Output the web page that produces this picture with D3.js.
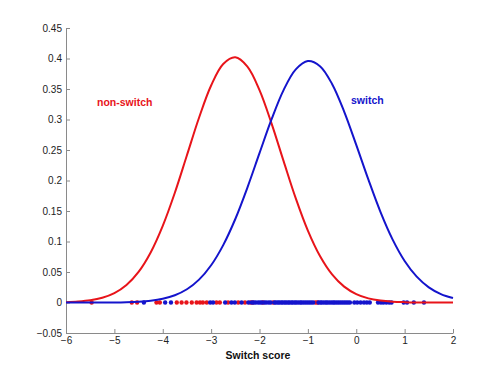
<!DOCTYPE html>
<html>
<head>
<meta charset="utf-8">
<script src="https://cdn.jsdelivr.net/npm/d3@7"></script>
<style>
    body { margin: 0; background: #fff; }
    svg { font-family: Arial, "Liberation Sans", sans-serif; }
</style>
</head>
<body>
<script>
"use strict";

// grid of switch scores where the two fitted curves were read
const curveX = [-6, -5.75, -5.5, -5.25, -5, -4.75, -4.5, -4.25, -4, -3.75, -3.5, -3.25, -3, -2.75, -2.5, -2.25,
    -2, -1.75, -1.5, -1.25, -1, -0.75, -0.5, -0.25, 0, 0.25, 0.5, 0.75, 1, 1.25, 1.5, 1.75, 2]

// non-switch density (red)
const nonSwitchCurve = [0.0006, 0.0016, 0.0036, 0.0077, 0.0153, 0.0286, 0.0501, 0.0820, 0.1256, 0.1799, 0.2414,
    0.3029, 0.3557, 0.3909, 0.4019, 0.3867, 0.3482, 0.2933, 0.2313, 0.1706, 0.1178, 0.0761, 0.0460, 0.0260,
    0.0138, 0.0068, 0.0032, 0.0014, 0.0006, 0.0002, 0.0001, 0, 0]

// switch density (blue)
const switchCurve = [0, 0, 0, 0.0001, 0.0002, 0.0006, 0.0014, 0.0030, 0.0062, 0.0119, 0.0217, 0.0375, 0.0611,
    0.0941, 0.1369, 0.1884, 0.2448, 0.3005, 0.3486, 0.3821, 0.3958, 0.3874, 0.3583, 0.3130, 0.2584, 0.2017,
    0.1486, 0.1035, 0.0681, 0.0424, 0.0249, 0.0138, 0.0073]

// individual scores, plotted on y = 0
const nonSwitchScores = [-5.47, -4.64, -4.53, -4.13, -4.06, -3.71, -3.61, -3.51, -3.40, -3.30, -3.23, -3.17,
    -3.09, -2.89, -2.82, -2.65, -2.44, -2.30, -2.19, -2.14, -1.93, -1.72, -0.84, -0.80]
const switchScores = [-4.39, -3.95, -3.83, -3.02, -2.96, -2.71, -2.58, -2.51, -2.37, -2.23, -2.16, -2.12, -2.08,
    -2.03, -1.99, -1.95, -1.90, -1.86, -1.81, -1.77, -1.69, -1.66, -1.62, -1.59, -1.55, -1.52, -1.48, -1.45,
    -1.41, -1.38, -1.34, -1.31, -1.27, -1.24, -1.20, -1.16, -1.13, -1.09, -1.05, -1.01, -0.97, -0.93, -0.89,
    -0.78, -0.74, -0.71, -0.67, -0.63, -0.60, -0.56, -0.52, -0.48, -0.45, -0.41, -0.37, -0.33, -0.29, -0.25,
    -0.21, -0.17, -0.13, -0.04, 0.02, 0.09, 0.16, 0.22, 0.28, 0.45, 0.51, 0.56, 0.62, 0.68, 0.73, 0.98, 1.05,
    1.19, 1.40]

const xTicks = [-6, -5, -4, -3, -2, -1, 0, 1, 2]
const yTicks = [-0.05, 0, 0.05, 0.1, 0.15, 0.2, 0.25, 0.3, 0.35, 0.4, 0.45]

const red = "#e8141a"
const blue = "#1414cc"

const size = { width: 500, height: 375, left: 66, right: 453, top: 28, bottom: 333 }

const svg = d3.select("body").append("svg")
    .attr("width", size.width)
    .attr("height", size.height)

const scaleX = d3.scaleLinear().domain([-6, 2]).range([size.left, size.right])
const scaleY = d3.scaleLinear().domain([-0.05, 0.45]).range([size.bottom, size.top])

// axes, ticks pointing inward like matlab
function drawAxes() {
    const xAxis = d3.axisBottom(scaleX)
        .tickValues(xTicks)
        .tickSizeInner(-4)
        .tickSizeOuter(0)
        .tickPadding(4)
        .tickFormat(d3.format("d"))
    const yAxis = d3.axisLeft(scaleY)
        .tickValues(yTicks)
        .tickSizeInner(-4)
        .tickSizeOuter(0)
        .tickPadding(4)
        .tickFormat(d => d3.format("~g")(+d.toFixed(2)))
    const gx = svg.append("g")
        .attr("transform", `translate(0,${size.bottom})`)
        .call(xAxis)
    const gy = svg.append("g")
        .attr("transform", `translate(${size.left},0)`)
        .call(yAxis)
    for (const g of [gx, gy]) {
        g.select(".domain").attr("stroke", "#8a8a8a")
        g.selectAll(".tick line").attr("stroke", "#8a8a8a")
        g.selectAll(".tick text")
            .attr("fill", "#222")
            .style("font-size", "10px")
    }
}

// scores on the zero line
function drawScores() {
    svg.append("g").selectAll("circle.ns")
        .data(nonSwitchScores)
        .enter().append("circle")
        .attr("class", "ns")
        .attr("cx", d => scaleX(d))
        .attr("cy", scaleY(0))
        .attr("r", 2.2)
        .attr("fill", red)
    svg.append("g").selectAll("circle.sw")
        .data(switchScores)
        .enter().append("circle")
        .attr("class", "sw")
        .attr("cx", d => scaleX(d))
        .attr("cy", scaleY(0))
        .attr("r", 2.2)
        .attr("fill", blue)
}

// the two fitted density curves
function drawCurves() {
    const line = d3.line()
        .x(d => scaleX(d[0]))
        .y(d => scaleY(d[1]))
        .curve(d3.curveCatmullRom)
    svg.append("path")
        .datum(d3.zip(curveX, nonSwitchCurve))
        .attr("d", line)
        .attr("fill", "none")
        .attr("stroke", red)
        .attr("stroke-width", 2)
    svg.append("path")
        .datum(d3.zip(curveX, switchCurve))
        .attr("d", line)
        .attr("fill", "none")
        .attr("stroke", blue)
        .attr("stroke-width", 2)
}

// labels
function drawLabels() {
    svg.append("text")
        .attr("x", 97)
        .attr("y", 106)
        .attr("fill", red)
        .style("font-size", "10.5px")
        .style("font-weight", "bold")
        .text("non-switch")
    svg.append("text")
        .attr("x", 351)
        .attr("y", 104)
        .attr("fill", blue)
        .style("font-size", "10.5px")
        .style("font-weight", "bold")
        .text("switch")
    svg.append("text")
        .attr("x", 258)
        .attr("y", 359)
        .attr("text-anchor", "middle")
        .attr("fill", "#111")
        .style("font-size", "10.5px")
        .style("font-weight", "bold")
        .text("Switch score")
}

drawAxes()
drawScores()
drawCurves()
drawLabels()
</script>
</body>
</html>
